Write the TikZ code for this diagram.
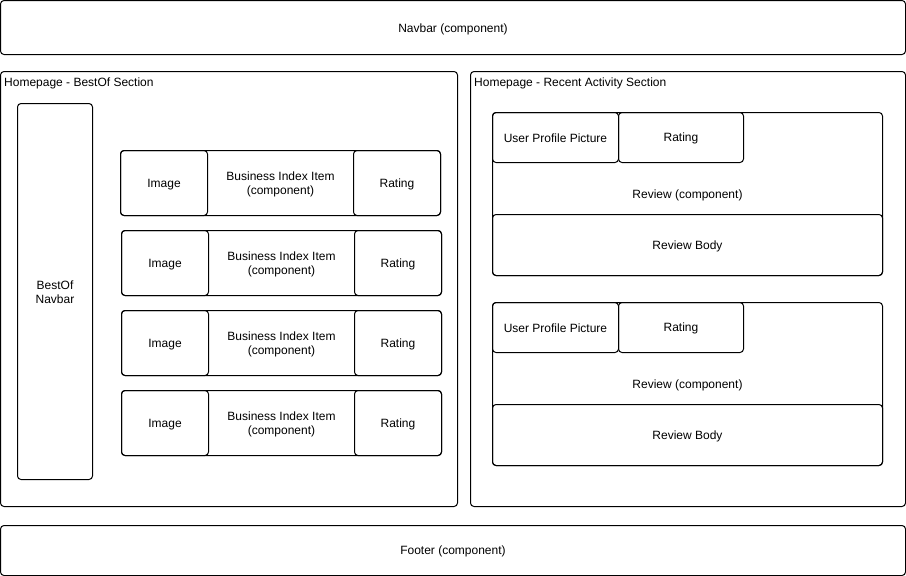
\documentclass[tikz,border=0pt]{standalone}
\usepackage{fontspec}
\setmainfont{Liberation Sans}
\begin{document}
\begin{tikzpicture}[x=1pt,y=-1pt,
  box/.style={draw=black, line width=1pt, rounded corners=3.5pt, inner sep=0pt, outer sep=0pt, anchor=north west},
  txt/.style={inner sep=0pt, align=center, font=\fontsize{12}{13.6}\selectfont},
  lbl/.style={inner sep=0pt, anchor=base west, font=\fontsize{12}{13.6}\selectfont}]
\fill[white] (0,0) rectangle (906,576);
\useasboundingbox (0,0) rectangle (906,576);
% top & bottom
\node[box, minimum width=905pt, minimum height=54pt] (navbar) at (0.5,0.5) {};
\node[txt] (navbar-t) at ([yshift=-1.5pt]navbar.center) {Navbar (component)};
\node[box, minimum width=905pt, minimum height=50pt] (footer) at (0.5,525.5) {};
\node[txt] (footer-t) at ([yshift=-0.5pt]footer.center) {Footer (component)};
% left section
\node[box, minimum width=457pt, minimum height=435pt] (left) at (0.5,71.5) {};
\node[lbl] (lefttitle) at (4,86) {Homepage - BestOf Section};
\node[box, minimum width=75pt, minimum height=376pt] (bestnav) at (17.5,103.5) {};
\node[txt] (bestnav-t) at ([yshift=-1pt]bestnav.center) {BestOf\\Navbar};
\foreach \k/\dx in {0/0,1/1,2/1,3/1}{
  \pgfmathsetmacro{\yy}{150.5+80*\k}
  \node[box, minimum width=320pt, minimum height=65pt] (biz\k) at (120.5+\dx,\yy) {};
  \node[txt] (biz\k-t) at ([yshift=-1.5pt]biz\k.center) {Business Index Item\\(component)};
  \node[box, minimum width=87pt, minimum height=65pt] (img\k) at (120.5+\dx,\yy) {};
  \node[txt] (img\k-t) at ([yshift=-1.5pt]img\k.center) {Image};
  \node[box, minimum width=87pt, minimum height=65pt] (rat\k) at (353.5+\dx,\yy) {};
  \node[txt] (rat\k-t) at ([yshift=-1.5pt]rat\k.center) {Rating};
}
% right section
\node[box, minimum width=435pt, minimum height=435pt] (right) at (470.5,71.5) {};
\node[lbl] (righttitle) at (474,86) {Homepage - Recent Activity Section};
\foreach \k in {0,1}{
  \pgfmathsetmacro{\yy}{112.5+190*\k}
  \node[box, minimum width=390pt, minimum height=163pt] (rev\k) at (492.5,\yy) {};
  \node[txt] (rev\k-t) at ([yshift=-1pt]rev\k.center) {Review (component)};
  \node[box, minimum width=126pt, minimum height=50pt] (pic\k) at (492.5,\yy) {};
  \node[txt] (pic\k-t) at ([yshift=-0.5pt]pic\k.center) {User Profile Picture};
  \node[box, minimum width=125pt, minimum height=50pt] (rrat\k) at (618.5,\yy) {};
  \node[txt] (rrat\k-t) at ([yshift=-0.5pt]rrat\k.center) {Rating};
  \node[box, minimum width=390pt, minimum height=61pt] (body\k) at (492.5,\yy+102) {};
  \node[txt] (body\k-t) at ([yshift=-1.5pt]body\k.center) {Review Body};
}
\end{tikzpicture}
\end{document}
